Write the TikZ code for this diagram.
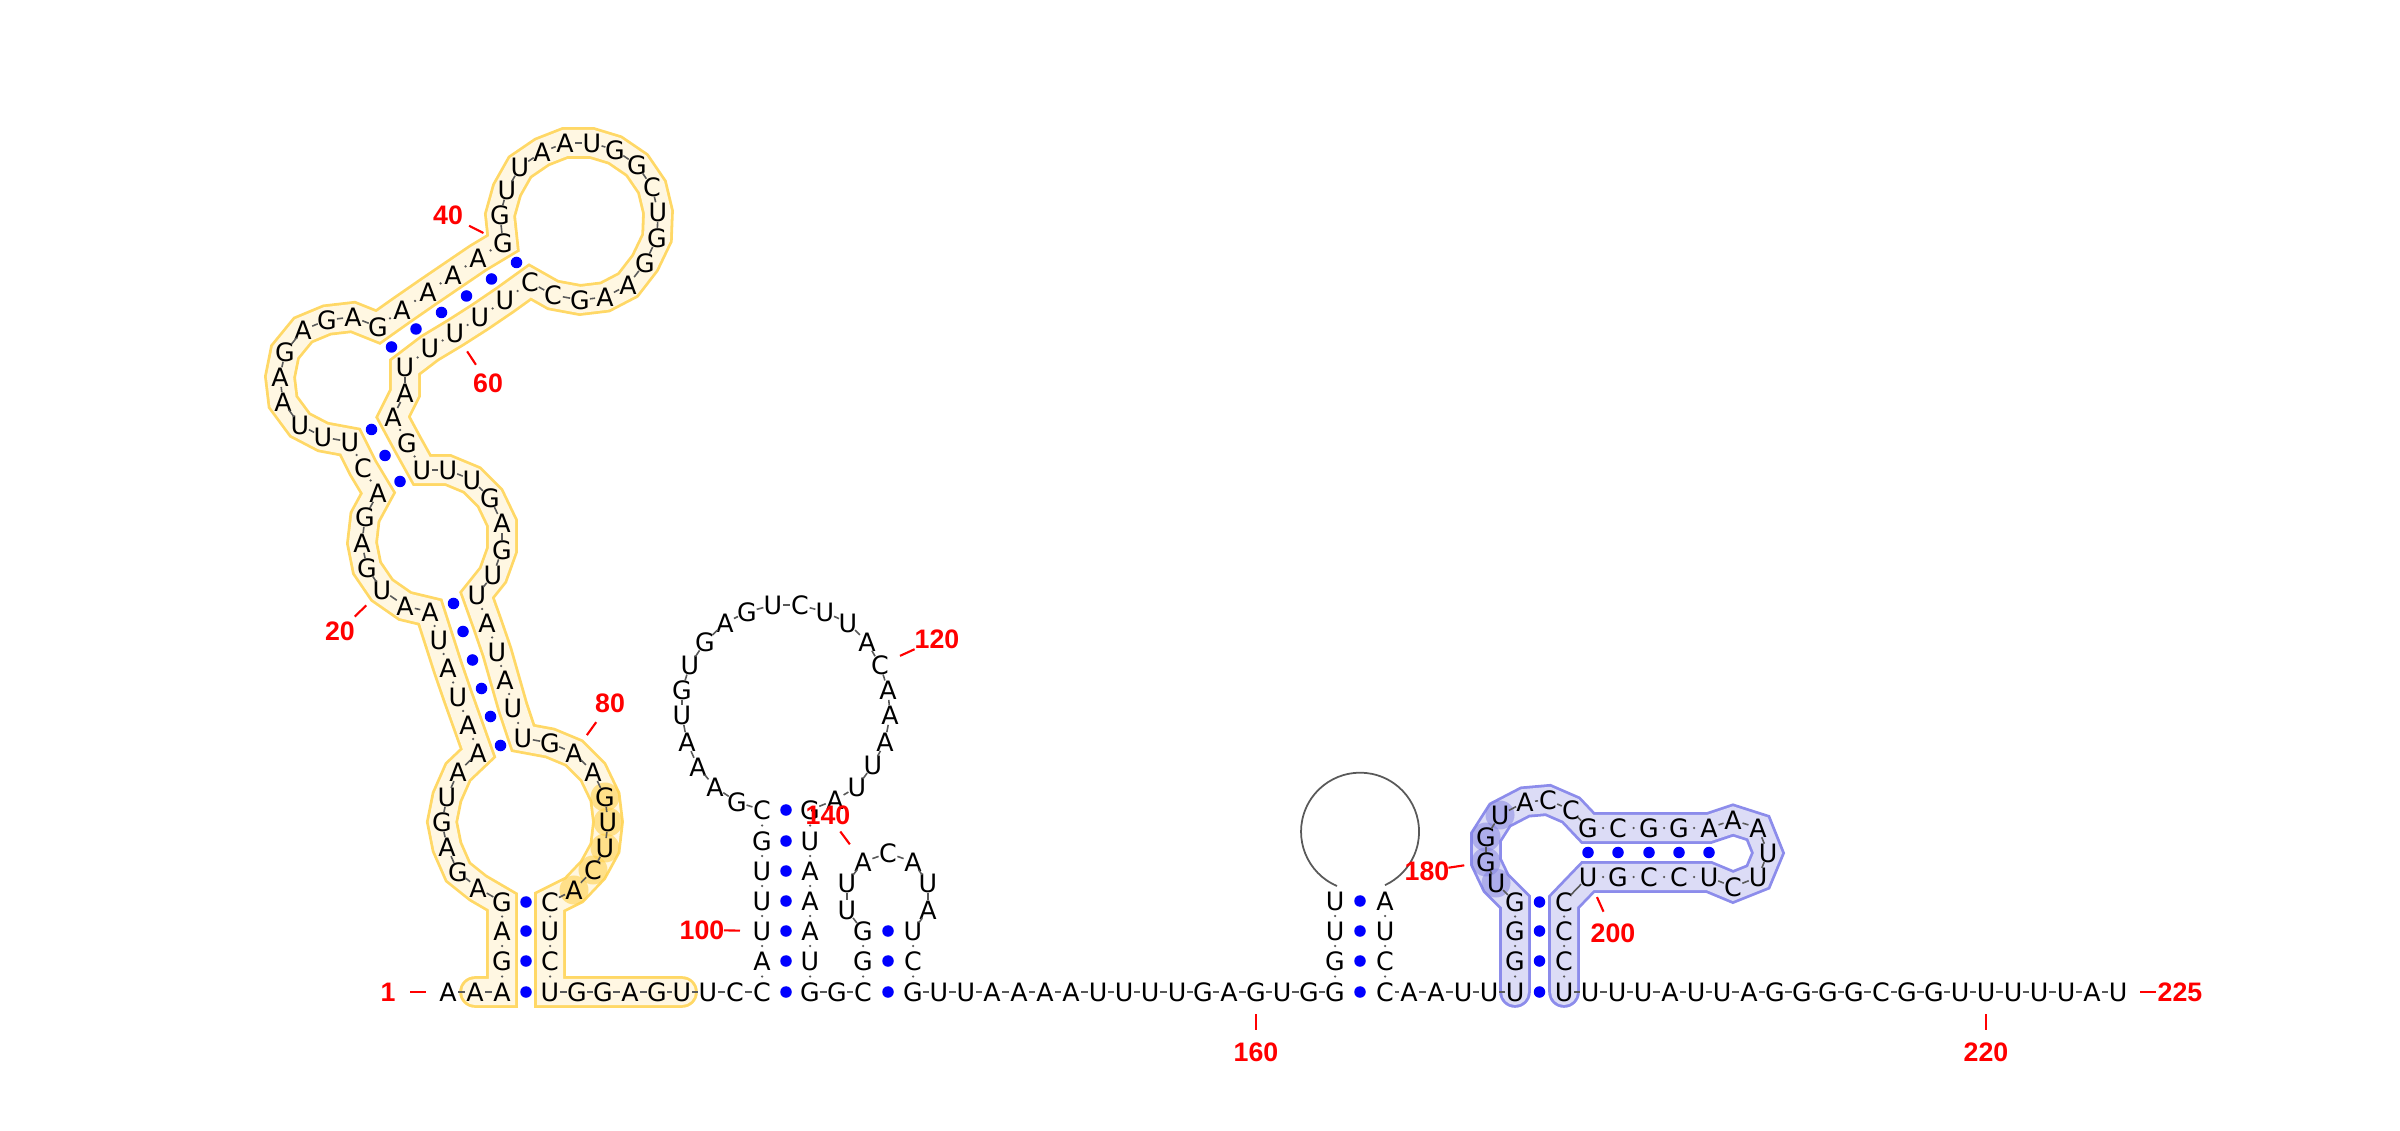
\documentclass[tikz,border=0pt]{standalone}
\usepackage{fontspec}
\setmainfont{DejaVu Sans}
\newfontfamily\numfont{Liberation Sans}
\usetikzlibrary{calc,backgrounds}

\begin{document}
\begin{tikzpicture}[x=0.01cm,y=-0.01cm,
	base/.style={inner sep=0pt,text height=0.185cm,text depth=0pt,font=\fontsize{7.2}{8}\selectfont},
	num/.style={inner sep=0pt,text=red,font=\numfont\bfseries\fontsize{7.6}{8}\selectfont},
	tick/.style={red,line width=0.6pt},
	bb/.style={bbgray,line width=0.45pt,shorten <=0.1cm,shorten >=0.1cm},
	pdot/.style={circle,fill=blue,inner sep=0pt,minimum size=0.115cm},
	hdot/.style={circle,fill=bbgray,inner sep=0pt,minimum size=0.025cm},
	yband/.style={draw=yline,double=yfill,line width=0.028cm,double distance=0.26cm,line cap=round,line join=miter},
	bband/.style={draw=bline,double=bfill,line width=0.028cm,double distance=0.26cm,line cap=round,line join=miter},
	yhl/.style={fill=yhot,fill opacity=0.6},
	bhl/.style={fill=bhot,fill opacity=0.5}]
	\definecolor{bbgray}{HTML}{595959}
	\definecolor{yline}{HTML}{FFD866}
	\definecolor{yfill}{HTML}{FFF7E2}
	\definecolor{yhot}{HTML}{FFD24F}
	\definecolor{bline}{HTML}{8C8CEB}
	\definecolor{bfill}{HTML}{DCDCF6}
	\definecolor{bhot}{HTML}{8282E1}
	
	\useasboundingbox (0,0) rectangle (2400,1131);
	
	% bases
	\foreach \i/\l/\x/\y in {
		1/A/448/992, 2/A/475/992, 3/A/502/992, 4/G/502/961, 5/A/502/931, 6/G/502/902,
		7/A/478/888, 8/G/458/872, 9/A/447/847, 10/G/442/822, 11/U/447/797, 12/A/458/772,
		13/A/478/753, 14/A/468/725, 15/U/458/697, 16/A/448/668, 17/U/439/640, 18/A/430/612,
		19/A/405/606, 20/U/382/590, 21/G/367/568, 22/A/362/543, 23/G/365/517,
		24/A/378/493, 25/C/363/468, 26/U/350/442, 27/U/323/437, 28/U/300/425, 29/A/283/402,
		30/A/280/377, 31/G/285/352, 32/A/303/330, 33/G/327/320, 34/A/353/317,
		35/G/378/327, 36/A/402/310, 37/A/428/292, 38/A/453/275, 39/A/478/258, 40/G/503/243,
		41/G/500/215, 42/U/507/190, 43/U/520/167, 44/A/542/152, 45/A/565/143, 46/U/592/143,
		47/G/615/150, 48/G/637/165, 49/C/652/187, 50/U/658/212, 51/G/657/238, 52/G/645/263,
		53/A/628/285, 54/A/605/297, 55/G/580/300, 56/C/553/295,
		57/C/530/282, 58/U/505/300, 59/U/480/317, 60/U/455/333, 61/U/430/348, 62/U/405/367,
		63/A/405/393, 64/A/393/417, 65/G/407/443, 66/U/422/470,
		67/U/448/470, 68/U/472/480, 69/G/490/498, 70/A/502/523, 71/G/502/550, 72/U/493/575,
		73/U/477/595, 74/A/487/623, 75/U/497/652, 76/A/505/680, 77/U/513/708, 78/U/523/738,
		79/G/550/743, 80/A/574/753, 81/A/593/772, 82/G/605/797, 83/U/608/822, 84/U/605/848,
		85/C/593/870, 86/A/574/890,
		87/C/550/902, 88/U/550/931, 89/C/550/961, 90/U/550/992,
		91/G/577/992, 92/G/603/992, 93/A/630/992, 94/G/657/992, 95/U/682/992, 96/U/708/992,
		97/C/735/992, 98/C/762/992, 99/A/762/961, 100/U/762/931, 101/U/762/901, 102/U/762/871,
		103/G/762/841, 104/C/762/810,
		105/G/737/802, 106/A/715/787, 107/A/698/767, 108/A/687/742, 109/U/682/715, 110/G/682/690,
		111/U/690/665, 112/G/705/642, 113/A/725/623, 114/G/747/612, 115/U/773/605, 116/C/800/605,
		117/U/825/612, 118/U/848/623, 119/A/867/642, 120/C/880/665, 121/A/888/690, 122/A/890/715,
		123/A/885/742, 124/U/873/765, 125/U/857/787, 126/A/835/800,
		127/G/810/810, 128/U/810/841, 129/A/810/871, 130/A/810/901, 131/A/810/931, 132/U/810/961,
		133/G/810/992, 134/G/837/992, 135/C/863/992, 136/G/863/961, 137/G/863/931,
		138/U/847/910, 139/U/847/883, 140/A/863/862, 141/C/888/853, 142/A/913/862, 143/U/928/883,
		144/A/928/910, 145/U/913/931, 146/C/913/961, 147/G/913/992,
		148/U/939/992, 149/U/966/992, 150/A/992/992, 151/A/1019/992, 152/A/1045/992, 153/A/1071/992,
		154/U/1098/992, 155/U/1124/992, 156/U/1150/992, 157/U/1177/992, 158/G/1203/992, 159/A/1229/992,
		160/G/1256/992, 161/U/1282/992, 162/G/1309/992, 163/G/1335/992,
		164/G/1335/961, 165/U/1335/931, 166/U/1335/901, 167/A/1385/901, 168/U/1385/931, 169/C/1385/961,
		170/C/1385/992, 171/A/1409/992, 172/A/1436/992, 173/U/1463/992, 174/U/1489/992, 175/U/1515/992,
		176/G/1515/961, 177/G/1515/931, 178/G/1515/902,
		179/U/1496/883, 180/G/1486/862, 181/G/1486/837, 182/U/1500/815, 183/A/1525/802, 184/C/1548/800,
		185/C/1571/810, 186/G/1588/828, 187/C/1618/828, 188/G/1649/828, 189/G/1679/828, 190/A/1709/828,
		191/A/1733/820, 192/A/1758/828, 193/U/1768/853, 194/U/1758/877, 195/C/1733/887,
		196/U/1709/877, 197/C/1679/877, 198/C/1649/877, 199/G/1618/877, 200/U/1588/877,
		201/C/1564/902, 202/C/1564/931, 203/C/1564/961, 204/U/1564/992,
		205/U/1590/992, 206/U/1617/992, 207/U/1643/992, 208/A/1670/992, 209/U/1696/992, 210/U/1722/992,
		211/A/1749/992, 212/G/1775/992, 213/G/1802/992, 214/G/1828/992, 215/G/1854/992, 216/C/1881/992,
		217/G/1907/992, 218/G/1934/992, 219/U/1960/992, 220/U/1986/992, 221/U/2013/992, 222/U/2039/992,
		223/U/2066/992, 224/A/2092/992, 225/U/2118/992}
		\node[base] (b\i) at (\x,\y) {\l};
	
	% highlighted domains
	\begin{scope}[on background layer]
		\draw[yband] (b2.center) \foreach \i in {3,...,95}{ -- (b\i.center)};
		\draw[bband] (b175.center) \foreach \i in {176,...,204}{ -- (b\i.center)};
		\foreach \i in {82,...,86} \fill[yhl] (b\i.center) circle (0.145cm);
		\foreach \i in {179,...,182} \fill[bhl] (b\i.center) circle (0.145cm);
	\end{scope}
	
	% backbone
	\foreach \a/\z in {1/2,6/12,18/23,26/34,40/56,62/63,66/72,78/86,90/97,104/126,133/134,
		137/144,147/162,170/174,178/185,190/195,200/200,204/224}
		\foreach \i in {\a,...,\z}{
			\pgfmathtruncatemacro\j{\i+1}
			\draw[bb] (b\i.center) -- (b\j.center);
		}
	\foreach \a/\z in {3/5,87/89,13/17,73/77,24/25,64/65,35/39,57/61,98/103,127/132,
		135/136,145/146,163/165,167/169,175/177,201/203,186/189,196/199}
		\foreach \i in {\a,...,\z}{
			\pgfmathtruncatemacro\j{\i+1}
			\path (b\i.center) -- (b\j.center) node[midway,hdot]{};
		}
	\draw[bbgray,line width=0.5pt] ($(b166.center)+(2,-15)$) arc[start angle=113,end angle=425,radius=59];
	
	% base pairs
	\foreach \s/\e/\n in {3/90/4,13/78/6,24/66/3,35/62/6,98/133/7,135/147/3,163/170/4,175/204/4,186/200/5}
		\foreach \k in {1,...,\n}{
			\pgfmathtruncatemacro\p{\s+\k-1}
			\pgfmathtruncatemacro\q{\e-\k+1}
			\path (b\p.center) -- (b\q.center) node[midway,pdot]{};
		}
	
	% labels
	\foreach \i/\x/\y in {1/388/992,20/340/631,40/448/215,60/488/383,80/610/703,100/702/930,
		120/937/639,140/828/815,160/1256/1052,180/1427/871,200/1613/933,220/1986/1052,225/2180/992}{
		\node[num] (n\i) at (\x,\y) {\i};
		\draw[tick] ($(b\i.center)!0.22cm!(n\i.center)$) -- ($(b\i.center)!0.38cm!(n\i.center)$);
	}
\end{tikzpicture}
\end{document}
